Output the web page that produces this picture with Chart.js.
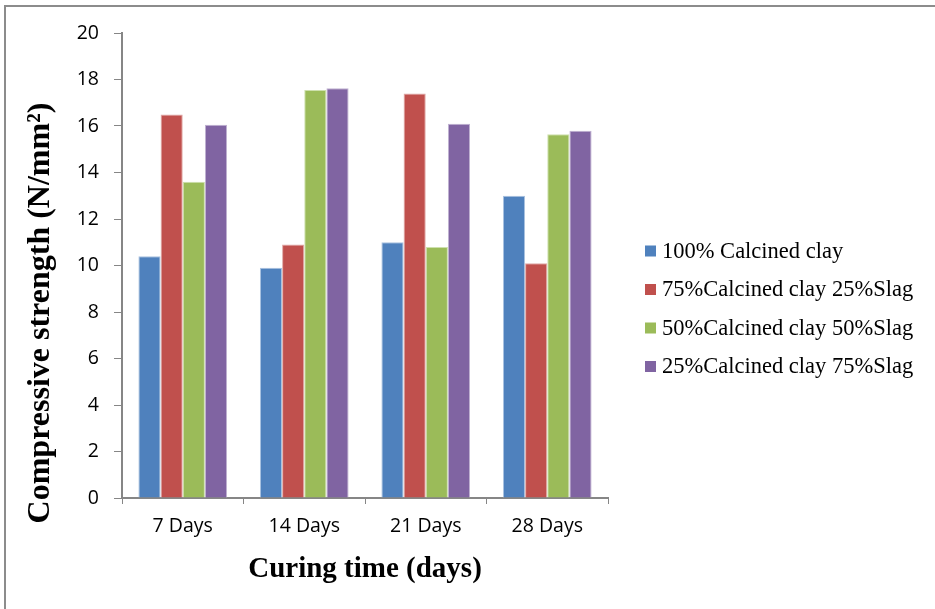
<!DOCTYPE html>
<html>
<head>
<meta charset="utf-8">
<script src="https://cdn.jsdelivr.net/npm/chart.js@4/dist/chart.umd.min.js"></script>
<style>
  html, body { margin: 0; padding: 0; background: #ffffff; }
  #wrap { position: relative; width: 935px; height: 609px; }
  #frame { position: absolute; left: 4px; top: 5px; right: 0; bottom: 0;
           border-left: 2px solid #8c8c8c; border-top: 2px solid #8c8c8c; pointer-events: none; }
  canvas { position: absolute; left: 0; top: 0; }
</style>
</head>
<body>
<div id="wrap">
  <canvas id="chart" width="935" height="609"></canvas>
  <div id="frame"></div>
</div>
<script>
// Curing ages on the x axis
const categories = ['7 Days', '14 Days', '21 Days', '28 Days'];

// Mix designs (legend labels)
const seriesLabels = [
  '100% Calcined clay',
  '75%Calcined clay 25%Slag',
  '50%Calcined clay 50%Slag',
  '25%Calcined clay 75%Slag'
];

// Compressive strength values (N/mm²) for each mix
const clay100 = [10.4, 9.9, 11.0, 13.0];
const clay75slag25 = [16.5, 10.9, 17.4, 10.1];
const clay50slag50 = [13.6, 17.55, 10.8, 15.65];
const clay25slag75 = [16.05, 17.62, 16.1, 15.8];

// Y axis tick values
const yTicks = [0, 2, 4, 6, 8, 10, 12, 14, 16, 18, 20];

const yAxisTitle = 'Compressive strength (N/mm²)';

const colors = ['#4F81BD', '#C0504D', '#9BBB59', '#8064A2'];
const edges = ['#a9c2e0', '#e0a9a7', '#cde0ad', '#bfb1d1'];
const values = [clay100, clay75slag25, clay50slag50, clay25slag75];

// Legend drawn at the right of the plot area
const sideLegend = {
  id: 'sideLegend',
  afterDraw(chart) {
    const ctx = chart.ctx;
    ctx.save();
    ctx.font = '22.5px "Liberation Serif", "Times New Roman", serif';
    ctx.textBaseline = 'middle';
    ctx.textAlign = 'left';
    const x0 = 645, y0 = 251, step = 38.5;
    chart.data.datasets.forEach((ds, i) => {
      const y = y0 + i * step;
      ctx.fillStyle = ds.backgroundColor;
      ctx.fillRect(x0, y - 5.5, 11, 11);
      ctx.fillStyle = '#000000';
      ctx.fillText(ds.label, x0 + 17, y + 1);
    });
    ctx.restore();
  }
};

// Vertical axis title, centred on the full figure height
const sideTitle = {
  id: 'sideTitle',
  afterDraw(chart) {
    const ctx = chart.ctx;
    ctx.save();
    ctx.translate(41, 313);
    ctx.rotate(-Math.PI / 2);
    ctx.font = 'bold 32px "Liberation Serif", "Times New Roman", serif';
    ctx.fillStyle = '#000000';
    ctx.textAlign = 'center';
    ctx.textBaseline = 'middle';
    ctx.fillText(yAxisTitle, 0, 0);
    ctx.restore();
  }
};

new Chart(document.getElementById('chart'), {
  type: 'bar',
  data: {
    labels: categories,
    datasets: seriesLabels.map((label, i) => ({
      label: label,
      data: values[i],
      backgroundColor: colors[i],
      borderColor: edges[i],
      borderWidth: 1,
      barPercentage: 1.0,
      categoryPercentage: 0.73
    }))
  },
  options: {
    responsive: false,
    animation: false,
    devicePixelRatio: 1,
    layout: { padding: { left: 0, right: 327, top: 33, bottom: 0 } },
    plugins: {
      legend: { display: false },
      tooltip: { enabled: false }
    },
    scales: {
      x: {
        offset: true,
        afterFit(scale) { scale.height = 111; },
        grid: {
          display: true,
          drawOnChartArea: false,
          drawTicks: true,
          tickLength: 6,
          color: '#868686',
          offset: true
        },
        border: { display: true, color: '#868686', width: 2 },
        ticks: {
          color: '#000000',
          padding: 11,
          font: { family: '"Open Sans", "Liberation Sans", sans-serif', size: 19.5 }
        },
        title: {
          display: true,
          text: 'Curing time (days)',
          color: '#000000',
          font: { family: '"Liberation Serif", "Times New Roman", serif', size: 29, weight: 'bold' },
          padding: { top: 0, bottom: 22 }
        }
      },
      y: {
        min: 0,
        max: 20,
        afterFit(scale) { scale.width = 122; },
        afterBuildTicks(scale) { scale.ticks = yTicks.map(v => ({ value: v })); },
        grid: {
          display: true,
          drawOnChartArea: false,
          drawTicks: true,
          tickLength: 8,
          color: '#868686'
        },
        border: { display: true, color: '#868686', width: 2 },
        ticks: {
          color: '#000000',
          padding: 15,
          font: { family: '"Open Sans", "Liberation Sans", sans-serif', size: 19.5 }
        },
        title: { display: false }
      }
    }
  },
  plugins: [sideLegend, sideTitle]
});
</script>
</body>
</html>
